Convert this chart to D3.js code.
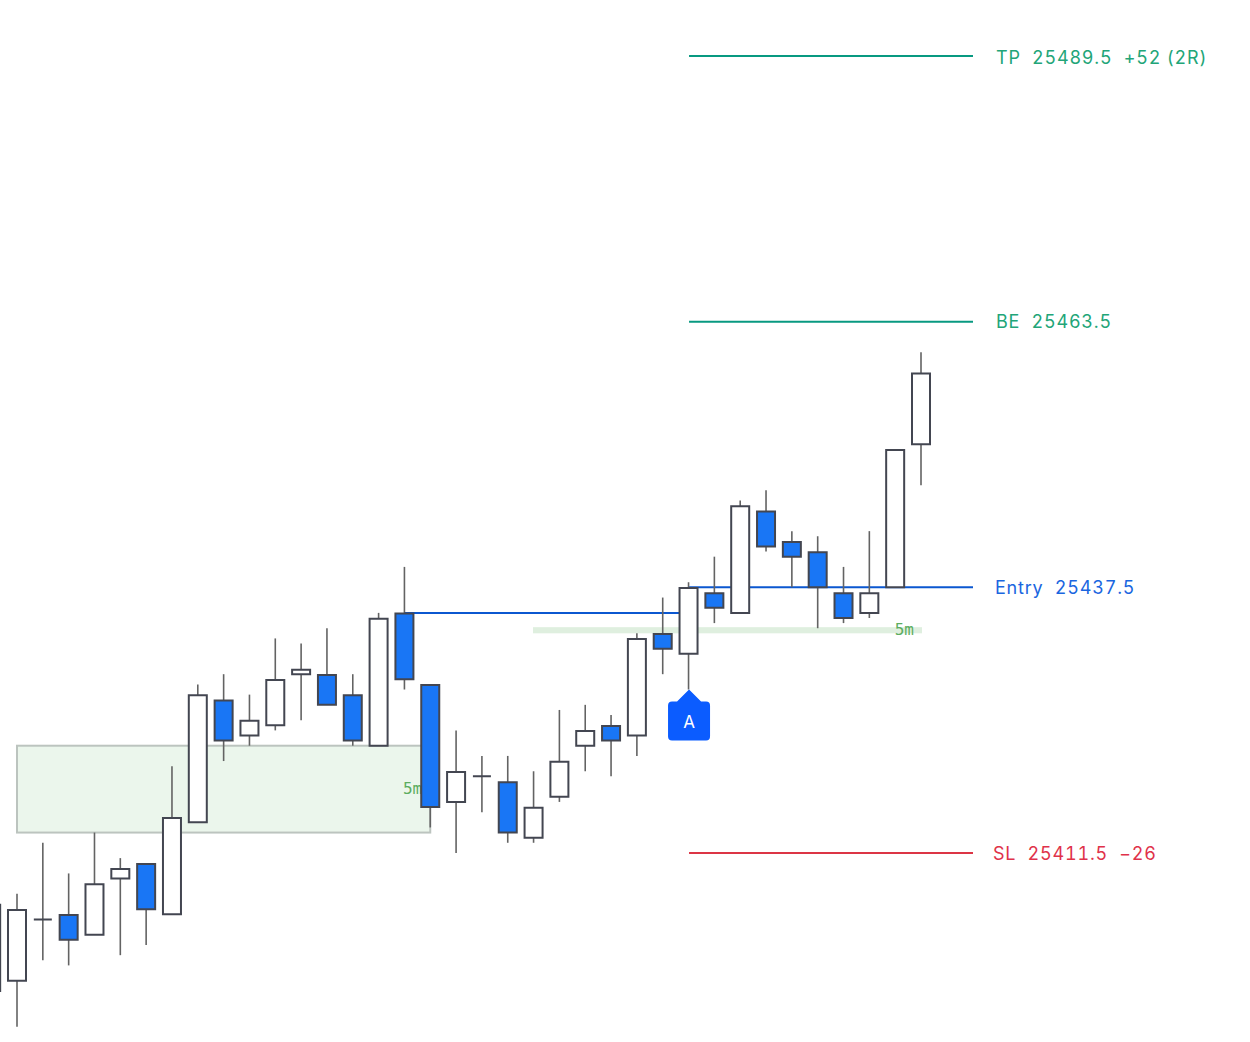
<!DOCTYPE html>
<html>
<head>
<meta charset="utf-8">
<script src="https://cdn.jsdelivr.net/npm/d3@7"></script>
<style>
  html, body { margin: 0; padding: 0; background: #fff; }
  text { white-space: pre; }
  .level-label { font-family: Inter, "Noto Sans", sans-serif; font-size: 18px; letter-spacing: 0.8px; font-variant-numeric: tabular-nums; }
  .zone-label { font-family: "DejaVu Sans Mono", monospace; font-size: 16px; fill: #5cad60; }
</style>
</head>
<body>
<div id="chart"></div>
<script>
// candle data, first bar is cut off by the left edge
const barIndex = d3.range(-1, 36);
const opens = [25398, 25399, 25405, 25405.5, 25403.5, 25409, 25410.5, 25405.5, 25414.5, 25426.5, 25423, 25424, 25429, 25429, 25427, 25422, 25435, 25428, 25416.5, 25419, 25418.5, 25413, 25417, 25422, 25424, 25423, 25433, 25431, 25437, 25435, 25445, 25442, 25441, 25437, 25435, 25437.5, 25451.5];
const highs = [25406.5, 25407.5, 25412.5, 25409.5, 25413.5, 25411, 25410.5, 25420, 25428, 25429, 25427, 25432.5, 25432, 25433.5, 25429, 25435, 25439.5, 25428, 25423.5, 25421, 25421, 25419.5, 25425.5, 25426, 25425, 25433, 25436.5, 25438, 25440.5, 25446, 25447, 25443, 25442.5, 25439.5, 25443, 25451, 25460.5];
const lows = [25398, 25394.5, 25401, 25400.5, 25403.5, 25401.5, 25402.5, 25405.5, 25414.5, 25420.5, 25422, 25423.5, 25424.5, 25426, 25422, 25422, 25427.5, 25414, 25411.5, 25415.5, 25412.5, 25412.5, 25416.5, 25419.5, 25419, 25421, 25429, 25427.5, 25434, 25435, 25441, 25437.5, 25433.5, 25434, 25434.5, 25437.5, 25447.5];
const closes = [25406.5, 25406, 25405, 25403, 25408.5, 25410, 25406, 25415, 25427, 25422.5, 25424.5, 25428.5, 25429.5, 25426, 25422.5, 25434.5, 25428.5, 25416, 25419.5, 25419, 25413.5, 25416, 25420.5, 25423.5, 25422.5, 25432.5, 25431.5, 25437.5, 25435.5, 25445.5, 25441.5, 25440.5, 25437.5, 25434.5, 25437, 25451, 25458.5];

// trade levels
const levelPrices = [25489.5, 25463.5, 25437.5, 25411.5];
const levelTexts = ["TP  25489.5  +52 (2R)", "BE  25463.5", "Entry  25437.5", "SL  25411.5  \u221226"];

// 5m zones
const zoneStart = [0, 20];
const zoneEnd = [16, 35];
const zoneTop = [25422, 25433.6];
const zoneBottom = [25413.5, 25433];

const preEntryPrice = 25435;
const signalBar = 26;

const width = 1250;
const height = 1042;

const svg = d3.select("#chart")
  .append("svg")
  .attr("width", width)
  .attr("height", height)
  .style("display", "block");

const x = d3.scaleLinear().domain([0, 35]).range([17, 921]);
const y = d3.scaleLinear().domain([25411.5, 25489.5]).range([853, 56]);

const levelColor = d3.scaleOrdinal().domain(levelPrices).range(["#089981", "#089981", "#0b57d0", "#dc3545"]);
const textColor = d3.scaleOrdinal().domain(levelPrices).range(["#22a578", "#22a578", "#1a66e0", "#e0324a"]);
const labelX = [996, 996, 995, 993];
const labelDy = [7.5, 6, 6.5, 6.5];

// zones
zoneStart.forEach((s, i) => {
  const boxed = i === 0;
  const x0 = boxed ? x(s) : 533;
  const x1 = boxed ? x(zoneEnd[i]) : 922;
  svg.append("rect")
    .attr("x", x0)
    .attr("y", y(zoneTop[i]))
    .attr("width", x1 - x0)
    .attr("height", y(zoneBottom[i]) - y(zoneTop[i]))
    .attr("fill", boxed ? "#ebf6ec" : "#dfefdf")
    .attr("stroke", boxed ? "#bcc4bf" : "none")
    .attr("stroke-width", 2);
  svg.append("text")
    .attr("class", "zone-label")
    .attr("x", x1 - 8)
    .attr("y", (y(zoneTop[i]) + y(zoneBottom[i])) / 2 + 4.5)
    .attr("text-anchor", "end")
    .text("5m");
});

// entry lines
svg.append("line")
  .attr("x1", x(15)).attr("x2", x(signalBar))
  .attr("y1", y(preEntryPrice)).attr("y2", y(preEntryPrice))
  .attr("stroke", "#0b57d0").attr("stroke-width", 2);

levelPrices.forEach((p, i) => {
  svg.append("line")
    .attr("x1", x(signalBar) + 0.5).attr("x2", 973)
    .attr("y1", y(p)).attr("y2", y(p))
    .attr("stroke", levelColor(p))
    .attr("stroke-width", 2);
  svg.append("text")
    .attr("class", "level-label")
    .attr("x", labelX[i])
    .attr("y", y(p) + labelDy[i])
    .attr("fill", textColor(p))
    .text(levelTexts[i]);
});

// wicks
svg.selectAll(".wick")
  .data(barIndex)
  .enter()
  .append("line")
  .attr("class", "wick")
  .attr("x1", d => x(d)).attr("x2", d => x(d))
  .attr("y1", (d, i) => y(highs[i]))
  .attr("y2", (d, i) => y(lows[i]))
  .attr("stroke", "#636363")
  .attr("stroke-width", 1.6);

// bodies, paths so the flat bars still get a stroke
const halfBody = 9;
svg.selectAll(".body")
  .data(barIndex)
  .enter()
  .append("path")
  .attr("class", "body")
  .attr("d", (d, i) => {
    const flat = opens[i] === closes[i];
    const top = y(Math.max(opens[i], closes[i])) + (flat ? 0 : 0.7);
    const bottom = y(Math.min(opens[i], closes[i]));
    return `M${x(d) - halfBody},${top}H${x(d) + halfBody}V${bottom}H${x(d) - halfBody}Z`;
  })
  .attr("fill", (d, i) => closes[i] < opens[i] ? "#1976f5" : "#fff")
  .attr("stroke", "#434651")
  .attr("stroke-width", 2);

// signal marker under the bar
const mx = x(signalBar) + 0.5;
const my = y(lows[barIndex.indexOf(signalBar)]);
svg.append("path")
  .attr("d", `M${mx},${my}L${mx + 12},${my + 12}H${mx + 17}Q${mx + 21},${my + 12} ${mx + 21},${my + 16}V${my + 47}Q${mx + 21},${my + 51} ${mx + 17},${my + 51}H${mx - 17}Q${mx - 21},${my + 51} ${mx - 21},${my + 47}V${my + 16}Q${mx - 21},${my + 12} ${mx - 17},${my + 12}H${mx - 12}Z`)
  .attr("fill", "#0b5cff");
svg.append("text")
  .attr("x", mx)
  .attr("y", my + 38)
  .attr("text-anchor", "middle")
  .attr("fill", "#fff")
  .style("font-family", "Inter, sans-serif")
  .style("font-size", "17px")
  .text("A");
</script>
</body>
</html>
